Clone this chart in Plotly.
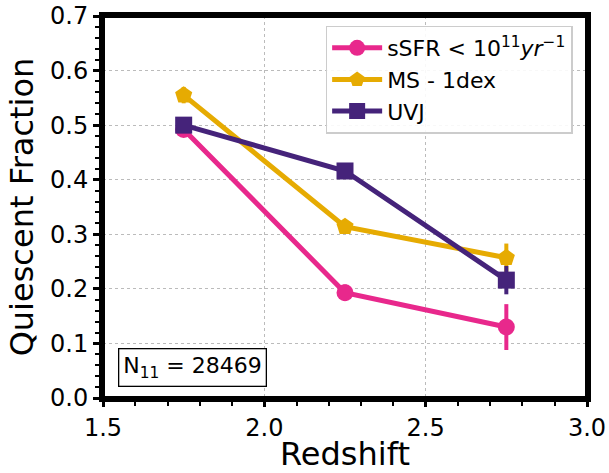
import plotly.graph_objects as go

redshift = [1.75, 2.25, 2.75]
ssfr_vals = [0.492, 0.193, 0.130]
ssfr_err = [0.012, 0.015, 0.042]
ms_vals = [0.555, 0.314, 0.257]
ms_err = [0.015, 0.012, 0.026]
uvj_vals = [0.500, 0.416, 0.216]
uvj_err = [0.012, 0.010, 0.026]

series = [
    ("sSFR < 10<sup>11</sup><i>yr</i><sup>−1</sup>", ssfr_vals, ssfr_err, "#e8288c", "circle", 17),
    ("MS - 1dex", ms_vals, ms_err, "#e6ab02", "pentagon", 18),
    ("UVJ", uvj_vals, uvj_err, "#45237a", "square", 17),
]

fig = go.Figure()
for name, vals, err, col, sym, sz in series:
    fig.add_trace(go.Scatter(
        x=redshift, y=vals, name=name, mode="lines+markers",
        line=dict(color=col, width=5),
        marker=dict(color=col, symbol=sym, size=sz),
        error_y=dict(type="data", array=err, visible=True, color=col, thickness=4, width=0),
    ))

tickfont = dict(size=24, color="black", family="DejaVu Sans")
titlefont = dict(size=32, color="black", family="DejaVu Sans")

fig.update_xaxes(range=[1.5, 3.0], dtick=0.5, tickformat=".1f", automargin=False,
                 showline=True, linecolor="black", linewidth=4, mirror=True,
                 ticks="outside", tickcolor="black", tickwidth=2.5, ticklen=5,
                 showgrid=True, gridcolor="#bbbbbb", griddash="dot", gridwidth=1.2,
                 zeroline=False, tickfont=tickfont,
                 minor=dict(dtick=0.1, ticks="outside", ticklen=4, tickwidth=2, tickcolor="black", showgrid=False),
                 title=dict(text="Redshift", font=titlefont, standoff=6))
fig.update_yaxes(range=[0, 0.7], dtick=0.1, tickformat=".1f", automargin=False,
                 showline=True, linecolor="black", linewidth=4, mirror=True,
                 ticks="outside", tickcolor="black", tickwidth=2.5, ticklen=6,
                 showgrid=True, gridcolor="#bbbbbb", griddash="dot", gridwidth=1.2,
                 zeroline=False, tickfont=tickfont,
                 minor=dict(dtick=0.02, ticks="outside", ticklen=4, tickwidth=2, tickcolor="black", showgrid=False),
                 title=dict(text="Quiescent Fraction", font=titlefont, standoff=8))

fig.add_shape(type="rect", xref="paper", yref="paper", x0=0, x1=1, y0=0, y1=1,
              line=dict(color="black", width=4), layer="above")

fig.add_annotation(
    x=0.03, y=0.03, xref="paper", yref="paper", xanchor="left", yanchor="bottom",
    text="N<sub>11</sub> = 28469", showarrow=False,
    font=dict(size=22, color="black", family="DejaVu Sans"),
    bordercolor="black", borderwidth=1.3, borderpad=4, bgcolor="white",
)

fig.update_layout(
    width=609, height=473,
    margin=dict(l=103, r=22, t=16, b=75),
    paper_bgcolor="white", plot_bgcolor="white",
    font=dict(family="DejaVu Sans", color="black"),
    legend=dict(x=0.46, y=0.975, xanchor="left", yanchor="top",
                bgcolor="rgba(255,255,255,0.9)", bordercolor="#cccccc", borderwidth=1.5,
                font=dict(size=22, color="black", family="DejaVu Sans"),
                itemwidth=50, tracegroupgap=0),
)

fig.write_html("out.html")
